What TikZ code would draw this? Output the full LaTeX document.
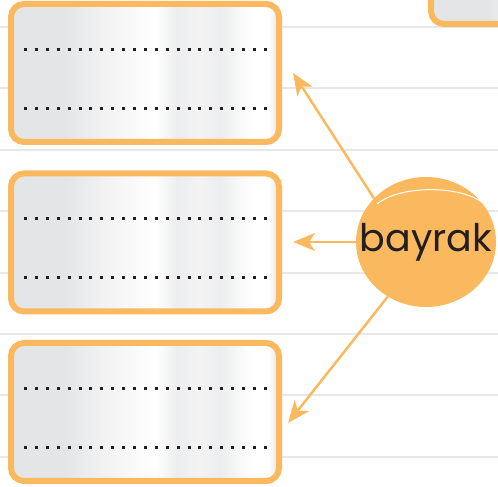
\documentclass[tikz,border=0pt]{standalone}
\usepackage{fontspec}
\setmainfont{Poppins}
\usetikzlibrary{arrows.meta,shapes.geometric}
\definecolor{bayrakorange}{HTML}{FBB95F}
\definecolor{ruleline}{HTML}{E6E7E8}
\definecolor{metA}{HTML}{E4E5E6}
\definecolor{metB}{HTML}{F3F3F4}
\definecolor{metC}{HTML}{FFFFFF}
\definecolor{metD}{HTML}{ECEDEE}
\definecolor{inktext}{HTML}{231F20}
\pgfdeclarehorizontalshading{metal}{100bp}{color(0bp)=(metA); color(25bp)=(metA);
    color(35bp)=(metA); color(43bp)=(metB); color(52bp)=(metC); color(56bp)=(metD);
    color(60bp)=(metB); color(64bp)=(metD); color(70bp)=(metC); color(73bp)=(metC);
    color(75bp)=(metA); color(100bp)=(metA)}
\tikzset{answer box/.style={draw=bayrakorange,line width=6pt,rounded corners=13pt,
        shade,shading=metal,minimum width=268pt,minimum height=138pt,inner sep=0pt},
    dot row/.style={inktext,line width=3pt,dash pattern=on 3pt off 7.9pt},
    word bubble/.style={ellipse,fill=bayrakorange,minimum width=140pt,
        minimum height=130pt,inner sep=0pt},
    bubble text/.style={inner sep=0pt,text=inktext,font=\fontsize{38}{40}\selectfont},
    shine/.style={white,line width=1pt},
    pointer/.style={bayrakorange,line width=2.5pt,
        -{Stealth[length=22pt,width=18pt,inset=6pt]}},
    paper line/.style={ruleline,line width=2pt}}

\begin{document}
\begin{tikzpicture}[x=1pt,y=1pt]
\useasboundingbox (0,0) rectangle (498,487);
\foreach \k in {0,...,7}
    \draw[paper line] (0,460-61.4*\k) -- (498,460-61.4*\k);
\node[answer box] (corner) at (565,532) {};
\node[answer box] (box1) at (145,414) {};
\node[answer box] (box2) at (145,244.5) {};
\node[answer box] (box3) at (145,75) {};
\foreach \b in {box1,box2,box3}{
    \draw[dot row] ([shift={(-121,23.5)}]\b.center) -- ([shift={(122.5,23.5)}]\b.center);
    \draw[dot row] ([shift={(-121,-35.5)}]\b.center) -- ([shift={(122.5,-35.5)}]\b.center);
}
\node[word bubble] (bubble) at (426,245) {};
\node[bubble text] (word) at (bubble.center) {bayrak};
\draw[shine] (377,283) .. controls (400,302) and (460,302) .. (483,284);
\coordinate (tip1) at (293,414);
\coordinate (tip2) at (293,245);
\coordinate (tip3) at (288,64);
\draw[pointer] (bubble.140) -- (tip1);
\draw[pointer] (bubble.west) -- (tip2);
\draw[pointer] (bubble.235) -- (tip3);
\end{tikzpicture}
\end{document}
